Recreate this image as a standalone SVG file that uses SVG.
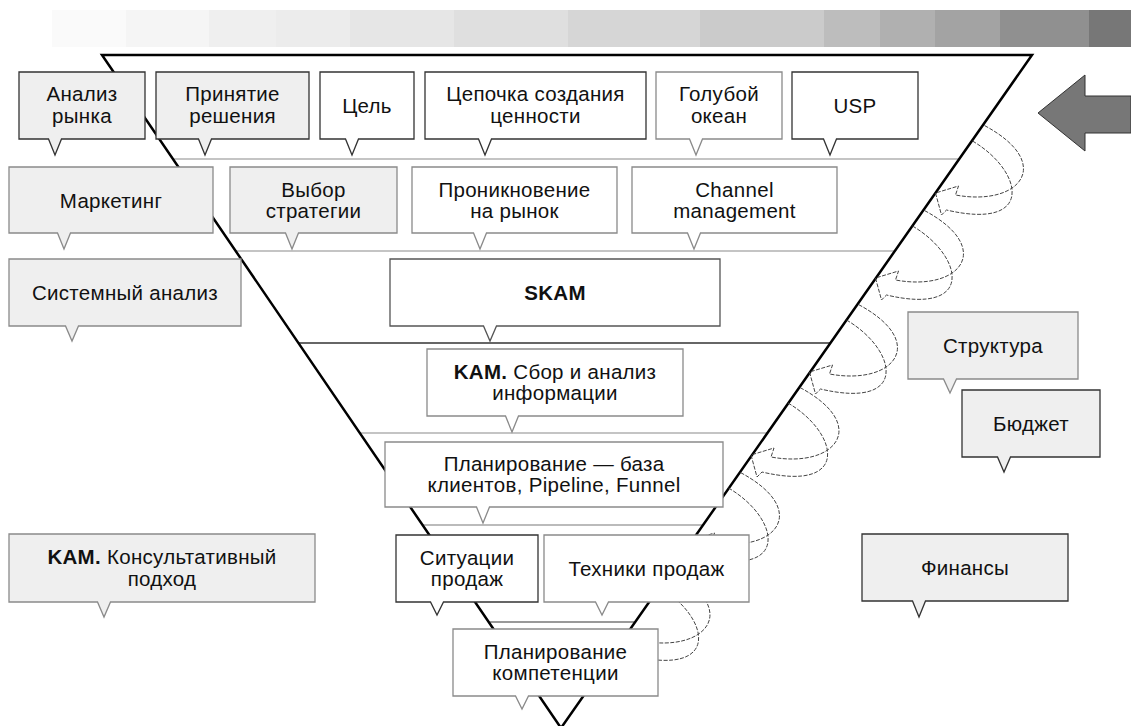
<svg xmlns="http://www.w3.org/2000/svg" xmlns:xlink="http://www.w3.org/1999/xlink" width="1131" height="726" viewBox="0 0 1131 726">
<style>
.bx{stroke-width:1.3;stroke-linejoin:miter}
.g{fill:#efefef}
.w{fill:#ffffff}
.dk{stroke:#333}
.md{stroke:#8a8a8a}
text{font-family:"Liberation Sans",Arial,sans-serif;font-size:20.5px;letter-spacing:0.3px;fill:#111;text-anchor:middle}
.b{font-weight:bold}
.sep{stroke-width:2;fill:none}
.ca{fill:none;stroke:#444;stroke-width:1;stroke-dasharray:4 1.5}
</style>
<defs>
<path id="ca" class="ca" d="M37,-52 C88,-22 100,38 11,17 L6,22 L0,0 L23,-7 L20,2 C85,14 120,-30 48,-68"/>
</defs>
<rect width="1131" height="726" fill="#fff"/>
<g id="bar">
<rect x="52" y="10" width="74" height="37" fill="#fafafa"/>
<rect x="126" y="10" width="83" height="37" fill="#f5f5f5"/>
<rect x="209" y="10" width="67" height="37" fill="#efefef"/>
<rect x="276" y="10" width="74" height="37" fill="#ececec"/>
<rect x="350" y="10" width="104" height="37" fill="#e6e6e6"/>
<rect x="454" y="10" width="114" height="37" fill="#dfdfdf"/>
<rect x="568" y="10" width="132" height="37" fill="#d6d6d6"/>
<rect x="700" y="10" width="124" height="37" fill="#cbcbcb"/>
<rect x="824" y="10" width="56" height="37" fill="#bdbdbd"/>
<rect x="880" y="10" width="55" height="37" fill="#b0b0b0"/>
<rect x="935" y="10" width="65" height="37" fill="#a3a3a3"/>
<rect x="1000" y="10" width="89" height="37" fill="#909090"/>
<rect x="1089" y="10" width="42" height="37" fill="#777777"/>
</g>
<g id="separators">
<line class="sep" x1="173" y1="159" x2="959" y2="159" stroke="#c4c4c4"/>
<line class="sep" x1="236" y1="251" x2="894" y2="251" stroke="#c4c4c4"/>
<line class="sep" x1="299" y1="343" x2="830" y2="343" stroke="#666"/>
<line class="sep" x1="360" y1="433" x2="767" y2="433" stroke="#c4c4c4"/>
<line class="sep" x1="423" y1="525" x2="702" y2="525" stroke="#bbb"/>
<line class="sep" x1="490" y1="622" x2="634" y2="622" stroke="#999"/>
</g>
<g id="funnel">
<path d="M102,55 L1032,55 L561,728 Z" fill="none" stroke="#000" stroke-width="2.5"/>
</g>
<g id="connectors">
<use xlink:href="#ca" href="#ca" transform="translate(935.5,193)"/>
<use xlink:href="#ca" href="#ca" transform="translate(875.5,278)"/>
<use xlink:href="#ca" href="#ca" transform="translate(809.5,372)"/>
<use xlink:href="#ca" href="#ca" transform="translate(751,455)"/>
<use xlink:href="#ca" href="#ca" transform="translate(691.5,540)"/>
<use xlink:href="#ca" href="#ca" transform="translate(622,639)"/>
<path d="M1038,113 L1085,75 L1085,96 L1131,96 L1131,133 L1085,133 L1085,151 Z" fill="#777" stroke="#333" stroke-width="1"/>
</g>
<g id="n1"><path class="bx g dk" d="M19,72 H145 V139 H61.5 L55,155 L48.5,139 H19 Z"/><text x="82" y="101">Анализ</text><text x="82" y="123">рынка</text></g>
<g id="n2"><path class="bx g dk" d="M156,72 H309 V139 H211.5 L205,155 L198.5,139 H156 Z"/><text x="232.5" y="101">Принятие</text><text x="232.5" y="123">решения</text></g>
<g id="n3"><path class="bx w dk" d="M320,72 H414 V139 H358.5 L352,155 L345.5,139 H320 Z"/><text x="367" y="112.5">Цель</text></g>
<g id="n4"><path class="bx w dk" d="M425,72 H646 V139 H491.5 L485,155 L478.5,139 H425 Z"/><text x="535.5" y="101">Цепочка создания</text><text x="535.5" y="123">ценности</text></g>
<g id="n5"><path class="bx w md" d="M656,72 H782 V139 H702.5 L696,155 L689.5,139 H656 Z"/><text x="719" y="101">Голубой</text><text x="719" y="123">океан</text></g>
<g id="n6"><path class="bx w dk" d="M792,72 H918 V139 H836.5 L830,155 L823.5,139 H792 Z"/><text x="855" y="112.5">USP</text></g>
<g id="n7"><path class="bx g md" d="M9,167 H213 V233 H70.5 L64,249 L57.5,233 H9 Z"/><text x="111" y="207.5">Маркетинг</text></g>
<g id="n8"><path class="bx g md" d="M230,167 H397 V233 H298.5 L292,249 L285.5,233 H230 Z"/><text x="313.5" y="196.5">Выбор</text><text x="313.5" y="218">стратегии</text></g>
<g id="n9"><path class="bx w md" d="M412,167 H617 V233 H486.5 L480,249 L473.5,233 H412 Z"/><text x="514.5" y="196.5">Проникновение</text><text x="514.5" y="218">на рынок</text></g>
<g id="n10"><path class="bx w md" d="M632,167 H837 V233 H700.5 L694,249 L687.5,233 H632 Z"/><text x="734.5" y="196.5">Channel</text><text x="734.5" y="218">management</text></g>
<g id="n11"><path class="bx g md" d="M9,259 H241 V326 H78.5 L72,341 L65.5,326 H9 Z"/><text x="125" y="300">Системный анализ</text></g>
<g id="n12"><path class="bx w" stroke="#555" d="M390,259 H720 V326 H496.5 L490,341 L483.5,326 H390 Z"/><text class="b" x="555" y="300">SKAM</text></g>
<g id="n13"><path class="bx w md" d="M427,349 H683 V416 H518.5 L512,432 L505.5,416 H427 Z"/><text x="555" y="378.5"><tspan class="b">KAM.</tspan> Сбор и анализ</text><text x="555" y="400">информации</text></g>
<g id="n14"><path class="bx w md" d="M385,442 H723 V507 H489.5 L483,523 L476.5,507 H385 Z"/><text x="554" y="470.5">Планирование — база</text><text x="554" y="492">клиентов, Pipeline, Funnel</text></g>
<g id="n15"><path class="bx w dk" d="M396,535 H538 V602 H443.5 L437,615 L430.5,602 H396 Z"/><text x="467" y="564.5">Ситуации</text><text x="467" y="586">продаж</text></g>
<g id="n16"><path class="bx w md" d="M544,535 H749 V602 H608.5 L602,615 L595.5,602 H544 Z"/><text x="646.5" y="576">Техники продаж</text></g>
<g id="n17"><path class="bx w md" d="M453,629 H658 V696 H528.5 L522,709 L515.5,696 H453 Z"/><text x="555.5" y="658.5">Планирование</text><text x="555.5" y="680">компетенции</text></g>
<g id="n18"><path class="bx g md" d="M908,312 H1078 V379 H956.5 L950,393 L943.5,379 H908 Z"/><text x="993" y="353">Структура</text></g>
<g id="n19"><path class="bx g dk" d="M962,390 H1100 V457 H1010.5 L1004,472 L997.5,457 H962 Z"/><text x="1031" y="431">Бюджет</text></g>
<g id="n20"><path class="bx g dk" d="M862,534 H1068 V601 H925.5 L919,617 L912.5,601 H862 Z"/><text x="965" y="575">Финансы</text></g>
<g id="n21"><path class="bx g md" d="M9,534 H315 V602 H110.5 L104,617 L97.5,602 H9 Z"/><text x="162" y="564"><tspan class="b">KAM.</tspan> Консультативный</text><text x="162" y="585.5">подход</text></g>
</svg>
